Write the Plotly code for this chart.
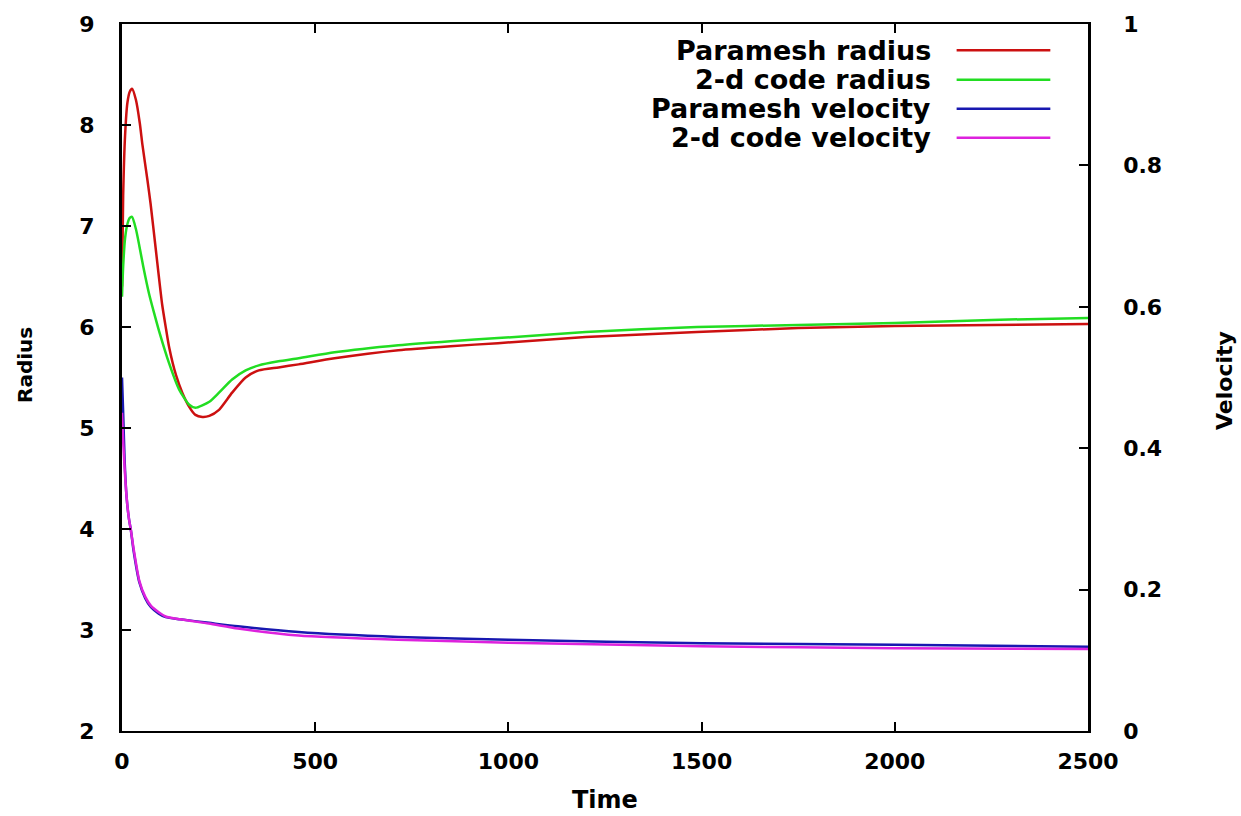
import plotly.graph_objects as go

# ---------------- data ----------------
t_pm_radius = [0, 3, 8, 14, 20, 26, 36, 46, 53, 66, 74, 88, 104, 114, 122, 140, 156, 174,
               190, 208, 226, 251, 285, 320, 354, 405, 457, 550, 715, 850, 973, 1200,
               1488, 1750, 2000, 2250, 2500]
pm_radius = [6.4, 7.3, 7.9, 8.22, 8.33, 8.36, 8.25, 8.02, 7.8, 7.45, 7.22, 6.75, 6.22, 5.98,
             5.8, 5.52, 5.35, 5.21, 5.13, 5.11, 5.12, 5.18, 5.35, 5.5, 5.57, 5.6, 5.63, 5.69,
             5.77, 5.81, 5.84, 5.9, 5.95, 5.99, 6.01, 6.02, 6.03]

t_2d_radius = [0, 3, 8, 14, 20, 26, 36, 45, 55, 70, 83, 96, 122, 148, 174, 190, 226, 251,
               285, 320, 354, 405, 457, 550, 715, 850, 973, 1200, 1488, 1750, 2000, 2250, 2500]
d2_radius = [6.3, 6.6, 6.88, 7.02, 7.08, 7.09, 6.97, 6.8, 6.6, 6.33, 6.14, 5.96, 5.64, 5.38,
             5.23, 5.2, 5.26, 5.35, 5.48, 5.57, 5.62, 5.66, 5.69, 5.75, 5.82, 5.86, 5.89,
             5.95, 6.0, 6.02, 6.04, 6.07, 6.09]

t_pm_vel = [0, 3, 7, 12, 18, 23, 30, 45, 60, 75, 95, 113, 150, 225, 300, 457, 715, 1000,
            1500, 2000, 2500]
pm_vel = [0.5, 0.45, 0.38, 0.33, 0.3, 0.284, 0.255, 0.21, 0.188, 0.175, 0.166, 0.161, 0.158,
          0.153, 0.148, 0.14, 0.133, 0.129, 0.124, 0.122, 0.119]

t_2d_vel = [0, 3, 7, 12, 18, 23, 30, 45, 60, 75, 95, 113, 150, 225, 300, 457, 715, 1000,
            1500, 2000, 2500]
d2_vel = [0.45, 0.41, 0.37, 0.33, 0.3, 0.284, 0.258, 0.212, 0.19, 0.177, 0.168, 0.162, 0.158,
          0.152, 0.145, 0.135, 0.129, 0.125, 0.12, 0.117, 0.116]

series_names = ["Paramesh radius", "2-d code radius", "Paramesh velocity", "2-d code velocity"]
series_colors = ["#cc1010", "#22dd22", "#1818b0", "#dd22dd"]

x_ticks = [0, 500, 1000, 1500, 2000, 2500]
y_ticks = [2, 3, 4, 5, 6, 7, 8, 9]
y2_ticks = [0, 0.2, 0.4, 0.6, 0.8, 1]

# ---------------- figure ----------------
FONT = "DejaVu Sans"
fig = go.Figure()

series = [
    (t_pm_radius, pm_radius, "y"),
    (t_2d_radius, d2_radius, "y"),
    (t_pm_vel, pm_vel, "y2"),
    (t_2d_vel, d2_vel, "y2"),
]
for (tx, vy, ax), name, col in zip(series, series_names, series_colors):
    fig.add_trace(go.Scatter(x=tx, y=vy, yaxis=ax, mode="lines", name=name,
                             line=dict(color=col, width=2.5, shape="spline", smoothing=0.6),
                             showlegend=False))

# legend (gnuplot style: text right aligned, sample on the right)
row_y = [0.963, 0.921, 0.880, 0.839]
for name, col, yy in zip(series_names, series_colors, row_y):
    fig.add_annotation(xref="paper", yref="paper", x=0.8395, y=yy, text=name,
                       showarrow=False, xanchor="right", yanchor="middle",
                       font=dict(family=FONT, size=27, color="black", weight="bold"))
    fig.add_shape(type="line", xref="paper", yref="paper", x0=0.864, x1=0.961, y0=yy, y1=yy,
                  line=dict(color=col, width=2.5))

# axis titles
fig.add_annotation(xref="paper", yref="paper", x=0.5, y=-0.0976, text="Time", showarrow=False,
                   xanchor="center", yanchor="middle",
                   font=dict(family=FONT, size=24, color="black", weight="bold"))
fig.add_annotation(xref="paper", yref="paper", x=-0.1004, y=0.5177, text="Radius",
                   showarrow=False, textangle=-90, xanchor="center", yanchor="middle",
                   font=dict(family=FONT, size=20, color="black", weight="bold"))
fig.add_annotation(xref="paper", yref="paper", x=1.1418, y=0.4965, text="Velocity",
                   showarrow=False, textangle=-90, xanchor="center", yanchor="middle",
                   font=dict(family=FONT, size=22, color="black", weight="bold"))

tickfont = dict(family=FONT, size=22, color="black", weight="bold")
fig.update_layout(
    width=1241, height=816,
    margin=dict(l=122, r=153, t=24, b=85),
    paper_bgcolor="white", plot_bgcolor="white",
    xaxis=dict(range=[0, 2500], tickvals=x_ticks, ticks="inside", ticklen=9, tickwidth=1.5,
               tickcolor="black", showline=True, linecolor="black", linewidth=2,
               mirror="ticks", showgrid=False, zeroline=False, tickfont=tickfont,
               ticklabelstandoff=10),
    yaxis=dict(range=[2, 9], tickvals=y_ticks, ticks="inside", ticklen=9, tickwidth=1.5,
               tickcolor="black", showline=True, linecolor="black", linewidth=3,
               showgrid=False, zeroline=False, tickfont=tickfont, ticklabelstandoff=20),
    yaxis2=dict(range=[0, 1], tickvals=y2_ticks, overlaying="y", side="right",
                ticks="inside", ticklen=9, tickwidth=1.5, tickcolor="black", showline=True,
                linecolor="black", linewidth=2.5, showgrid=False, zeroline=False,
                tickfont=tickfont, ticklabelstandoff=28),
)

fig.write_html("out.html")
